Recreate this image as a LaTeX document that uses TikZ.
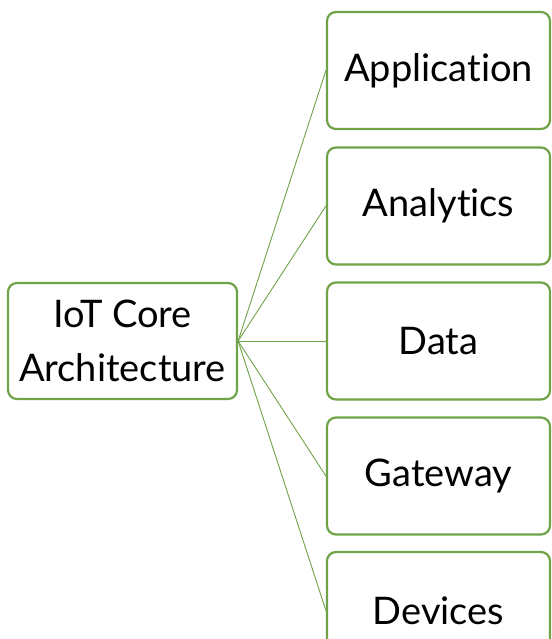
\documentclass[tikz,border=0pt]{standalone}
\usepackage{fontspec}
\setmainfont{Lato}[Ligatures=NoCommon]
\usepackage{tikz}

\definecolor{leafgreen}{RGB}{112,163,72}

\begin{document}
\begin{tikzpicture}[x=1pt,y=1pt]
\tikzstyle{every node}+=[inner sep=0pt]
\tikzstyle{archbox}=[draw=leafgreen, line width=2.2pt, rounded corners=9pt, fill=white,
  font=\fontsize{38}{54}\selectfont, align=center]
\tikzstyle{rootbox}=[archbox, minimum width=229, minimum height=116]
\tikzstyle{layerbox}=[archbox, minimum width=223, minimum height=117]
\tikzstyle{link}=[draw=leafgreen, line width=0.9pt]
\clip (0,0) rectangle (551,-639);
\fill [white] (0,0) rectangle (551,-639);
% root
\node [rootbox] (core) at (122.5,-341) {IoT Core\\Architecture};
% layers
\node [layerbox] (app) at (438.5,-70.5) {Application};
\node [layerbox] (ana) at (438.5,-206) {Analytics};
\node [layerbox] (data) at (438.5,-341) {Data};
\node [layerbox] (gate) at (438.5,-476) {Gateway};
\node [layerbox] (dev) at (438.5,-610.5) {Devices};
% links
\foreach \n in {app,ana,data,gate,dev}
  \draw [link] (core.east) -- (\n.west);
\end{tikzpicture}
\end{document}
